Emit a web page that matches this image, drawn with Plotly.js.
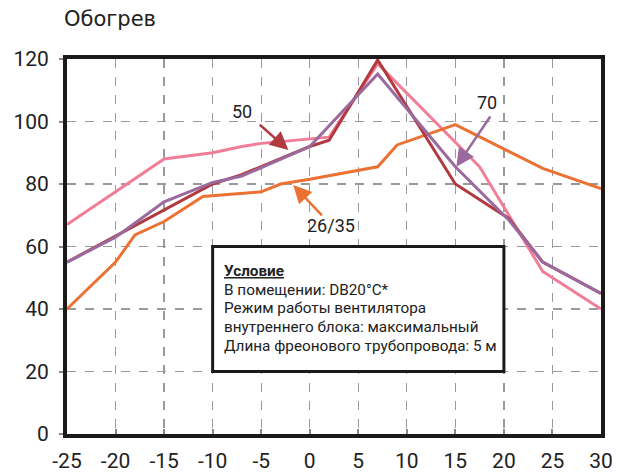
<!DOCTYPE html>
<html>
<head>
<meta charset="utf-8">
<script src="https://cdn.plot.ly/plotly-3.0.1.min.js"></script>
<style>html,body{margin:0;padding:0;background:#fff;}#chart{width:620px;height:475px;}</style>
</head>
<body>
<div id="chart"></div>
<script>
// Series data (outdoor temperature, °C -> capacity, %)
const pinkX = [-25, -15, -10, -7, -5, 0, 2, 7, 17.5, 24, 30];
const pinkY = [67, 88, 90, 92, 93, 94.6, 95, 118.5, 85.5, 52, 40];

const redX = [-25, -15, -10, -7, 0, 2, 7, 15, 20.5, 24, 30];
const redY = [55, 71.7, 80, 83, 92, 94, 119.7, 80, 69, 55, 45];

const purpleX = [-25, -20, -15, -10, -7, 0, 7, 15, 20.5, 24, 30];
const purpleY = [55, 63, 74.3, 80.5, 82.5, 92, 115.2, 85.5, 68.5, 55, 45];

const orangeX = [-25, -20, -18, -15, -11, -5, -3, 0, 7, 9, 15, 24, 30];
const orangeY = [40, 55, 63.7, 68, 76, 77.5, 80, 81.5, 85.5, 92.5, 99, 85, 78.5];

const xTickVals = [-25, -20, -15, -10, -5, 0, 5, 10, 15, 20, 25, 30];
const xTickText = ["-25", "-20", "-15", "-10", "-5", "0", "5", "10", "15", "20", "25", "30"];
const yTickVals = [0, 20, 40, 60, 80, 100, 120];

const chartTitle = "Обогрев";
const labels = ["50", "70", "26/35"];
const conditionLines = [
  "<b><u>Условие</u></b>",
  "В помещении: DB20°C*",
  "Режим работы вентилятора",
  "внутреннего блока: максимальный",
  "Длина фреонового трубопровода: 5 м"
];

const colors = {pink: "#f27d97", red: "#b03a40", purple: "#9a6a9f", orange: "#ec7233"};
const lw = 3;

const traces = [
  {x: pinkX, y: pinkY, color: colors.pink},
  {x: orangeX, y: orangeY, color: colors.orange},
  {x: redX, y: redY, color: colors.red},
  {x: purpleX, y: purpleY, color: colors.purple}
].map(s => ({
  x: s.x, y: s.y, type: "scatter", mode: "lines",
  line: {color: s.color, width: lw}, hoverinfo: "skip", showlegend: false
}));

const font = "Roboto, 'Liberation Sans', Arial, sans-serif";

function arrow(tip, tail, color) {
  return {
    x: tip[0], y: tip[1], ax: tail[0], ay: tail[1],
    xref: "x", yref: "y", axref: "x", ayref: "y",
    text: "", showarrow: true, arrowhead: 2, arrowsize: 1.45,
    arrowwidth: 2.5, arrowcolor: color, standoff: 0, startstandoff: 0
  };
}
function label(txt, x, y) {
  return {x: x, y: y, xref: "x", yref: "y", text: txt, showarrow: false,
    font: {family: font, size: 18, color: "#222"}, xanchor: "center", yanchor: "middle"};
}

const annotations = [
  arrow([-2.2, 90.9], [-5.3, 99.4], colors.red),
  arrow([15.1, 85.5], [18.7, 102.1], colors.purple),
  arrow([-1.7, 79.7], [1.4, 69.5], colors.orange),
  label(labels[0], -7.0, 103.1),
  label(labels[1], 18.3, 106.1),
  label(labels[2], 2.2, 66.6)
];
// condition box text, one annotation per line
conditionLines.forEach((t, i) => {
  annotations.push({
    x: -9.05, y: 52.2 - i * 6.0, xref: "x", yref: "y", xanchor: "left", yanchor: "middle",
    align: "left", showarrow: false, text: t,
    font: {family: font, size: 15.3, color: "#222"}
  });
});

const layout = {
  width: 620, height: 475,
  margin: {l: 67, r: 19, t: 59, b: 41},
  paper_bgcolor: "#fff", plot_bgcolor: "#fff",
  title: {
    text: chartTitle, font: {family: "'DejaVu Sans', Verdana, sans-serif", size: 21, color: "#222"},
    x: 64 / 620, xref: "container", xanchor: "left",
    y: 1 - 19 / 475, yref: "container", yanchor: "middle"
  },
  xaxis: {
    range: [-25, 30], tickvals: xTickVals, ticktext: xTickText,
    showgrid: true, gridcolor: "#9a9a9a", gridwidth: 1.3, griddash: "dash",
    zeroline: false, showline: true, linecolor: "#1a1a1a", linewidth: 4, mirror: true,
    ticks: "inside", ticklen: 5, tickwidth: 2, tickcolor: "#888",
    tickfont: {family: font, size: 21, color: "#222"}, ticklabelstandoff: 5,
    fixedrange: true
  },
  yaxis: {
    range: [0, 120], tickvals: yTickVals,
    showgrid: true, gridcolor: "#9a9a9a", gridwidth: 1.3, griddash: "dash",
    zeroline: false, showline: true, linecolor: "#1a1a1a", linewidth: 4, mirror: true,
    ticks: "outside", ticklen: 4, tickwidth: 2, tickcolor: "#888",
    tickfont: {family: font, size: 21, color: "#222"}, ticklabelstandoff: 6,
    fixedrange: true
  },
  shapes: [{
    type: "rect", xref: "x", yref: "y", x0: -10, x1: 20, y0: 20, y1: 60,
    fillcolor: "#fff", line: {color: "#1a1a1a", width: 3}, layer: "above"
  }],
  annotations: annotations,
  showlegend: false
};

Plotly.newPlot("chart", traces, layout, {displayModeBar: false, staticPlot: true});
</script>
</body>
</html>
